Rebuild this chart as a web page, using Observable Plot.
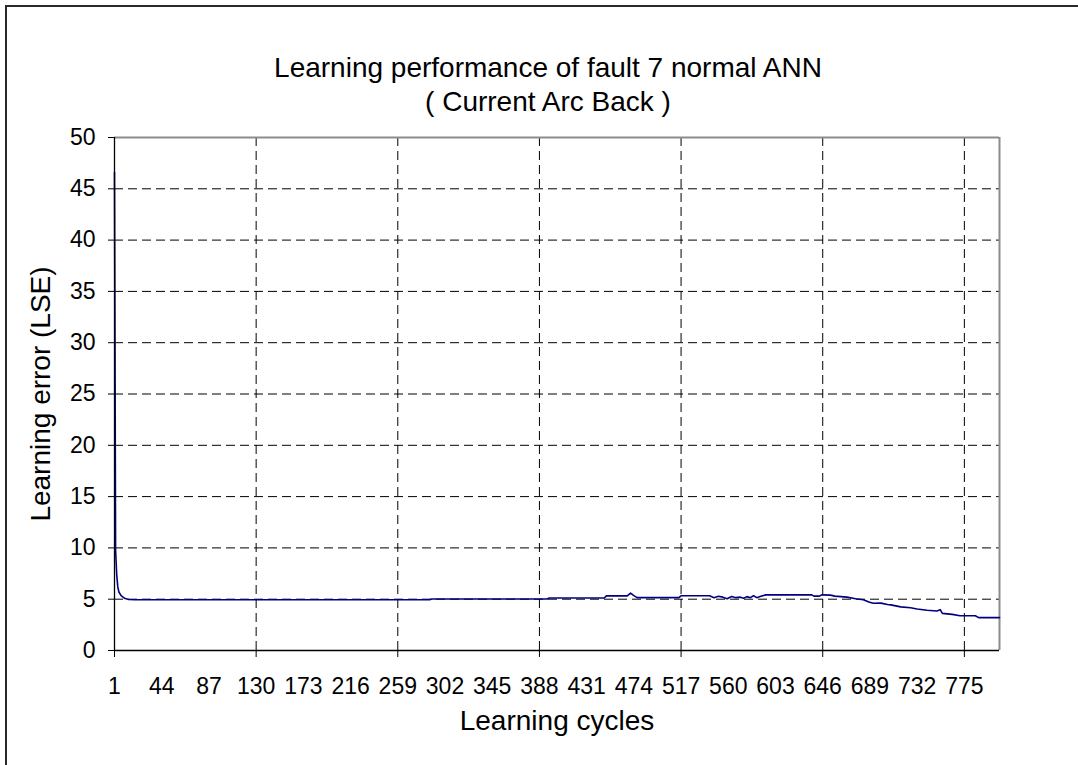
<!DOCTYPE html>
<html>
<head>
<meta charset="utf-8">
<script src="https://cdn.jsdelivr.net/npm/d3@7"></script>
<script src="https://cdn.jsdelivr.net/npm/@observablehq/plot@0.6"></script>
<style>
  html, body { margin: 0; padding: 0; background: #fff; }
  #wrap { position: relative; width: 1078px; height: 765px; overflow: hidden; font-family: "Liberation Sans", Arial, sans-serif; color: #000; }
  #frame { position: absolute; left: 5px; top: 5px; width: 1100px; height: 800px; border: 2px solid #2a2a2a; box-sizing: border-box; }
  #chart { position: absolute; left: 0; top: 0; }
  .title { position: absolute; left: 0; width: 1096px; text-align: center; font-size: 28px; line-height: 34px; top: 51px; white-space: nowrap; }
  .xlabel { position: absolute; left: 457px; width: 200px; text-align: center; font-size: 28px; line-height: 28px; top: 707px; white-space: nowrap; }
  .ylabel { position: absolute; left: 41px; top: 394px; font-size: 28px; line-height: 28px; white-space: nowrap; transform: translate(-50%, -50%) rotate(-90deg); }
</style>
</head>
<body>
<div id="wrap">
  <div id="frame"></div>
  <div id="chart"></div>
  <div class="title">Learning performance of fault 7 normal ANN<br>( Current Arc Back )</div>
  <div class="xlabel">Learning cycles</div>
  <div class="ylabel">Learning error (LSE)</div>
</div>
<script>
// Learning cycle (x) and learning error (y)
const cycles = [1, 2, 3, 4, 5, 7, 10, 14, 20, 288, 290, 395, 397, 447, 449, 468, 471, 474, 477, 515, 517, 543, 547, 551, 555, 559, 563, 567, 571, 574, 577, 580, 583, 586, 589, 594, 636, 638, 643, 645, 653, 657, 668, 676, 683, 688, 692, 699, 705, 708, 717, 726, 732, 741, 750, 753, 755, 764, 771, 785, 788, 807];
const errors = [46.6, 9.8, 7.4, 6.2, 5.7, 5.35, 5.1, 4.97, 4.94, 4.94, 5.02, 5.02, 5.12, 5.12, 5.32, 5.32, 5.6, 5.35, 5.15, 5.15, 5.33, 5.33, 5.15, 5.28, 5.2, 5.05, 5.26, 5.15, 5.2, 5.1, 5.25, 5.15, 5.33, 5.15, 5.26, 5.42, 5.42, 5.3, 5.3, 5.42, 5.4, 5.3, 5.2, 5.05, 4.95, 4.72, 4.6, 4.62, 4.48, 4.45, 4.25, 4.17, 4.05, 3.92, 3.85, 3.98, 3.62, 3.52, 3.38, 3.38, 3.2, 3.2];

const xTickLabels = [1, 44, 87, 130, 173, 216, 259, 302, 345, 388, 431, 474, 517, 560, 603, 646, 689, 732, 775];
const xTickMarks = [1, 130, 259, 388, 517, 646, 775];
const xGrid = [130, 259, 388, 517, 646, 775];
const yTicks = [0, 5, 10, 15, 20, 25, 30, 35, 40, 45, 50];
const yGrid = [5, 10, 15, 20, 25, 30, 35, 40, 45];
const xDomain = [1, 807];
const yDomain = [0, 50];

const data = cycles.map((c, i) => ({cycle: c, error: errors[i]}));

const chart = Plot.plot({
  width: 1078,
  height: 765,
  marginLeft: 114,
  marginRight: 79,
  marginTop: 137,
  marginBottom: 115,
  style: {fontFamily: '"Liberation Sans", Arial, sans-serif', background: "transparent", color: "#000"},
  x: {domain: xDomain},
  y: {domain: yDomain},
  marks: [
    Plot.ruleY(yGrid, {stroke: "#000", strokeDasharray: "9,5", strokeWidth: 1}),
    Plot.ruleX(xGrid, {stroke: "#000", strokeDasharray: "9,5", strokeWidth: 1}),
    Plot.ruleY([50], {stroke: "#8c8c8c", strokeWidth: 2}),
    Plot.ruleX([807], {stroke: "#8c8c8c", strokeWidth: 2}),
    Plot.line(data, {x: "cycle", y: "error", stroke: "#000080", strokeWidth: 1.6}),
    Plot.ruleY([0], {stroke: "#000", strokeWidth: 1.3}),
    Plot.ruleX([1], {stroke: "#000", strokeWidth: 1.3}),
    Plot.axisY({ticks: yTicks, tickSize: 6, tickPadding: 13, fontSize: 23, label: null, stroke: "#000"}),
    Plot.axisX({ticks: xTickMarks, tickSize: 7, tickFormat: () => "", label: null, stroke: "#000"}),
    Plot.axisX({ticks: xTickLabels, tickSize: 0, tickPadding: 27, fontSize: 23, label: null, tickFormat: d => String(d)})
  ]
});
document.getElementById("chart").appendChild(chart);
</script>
</body>
</html>
